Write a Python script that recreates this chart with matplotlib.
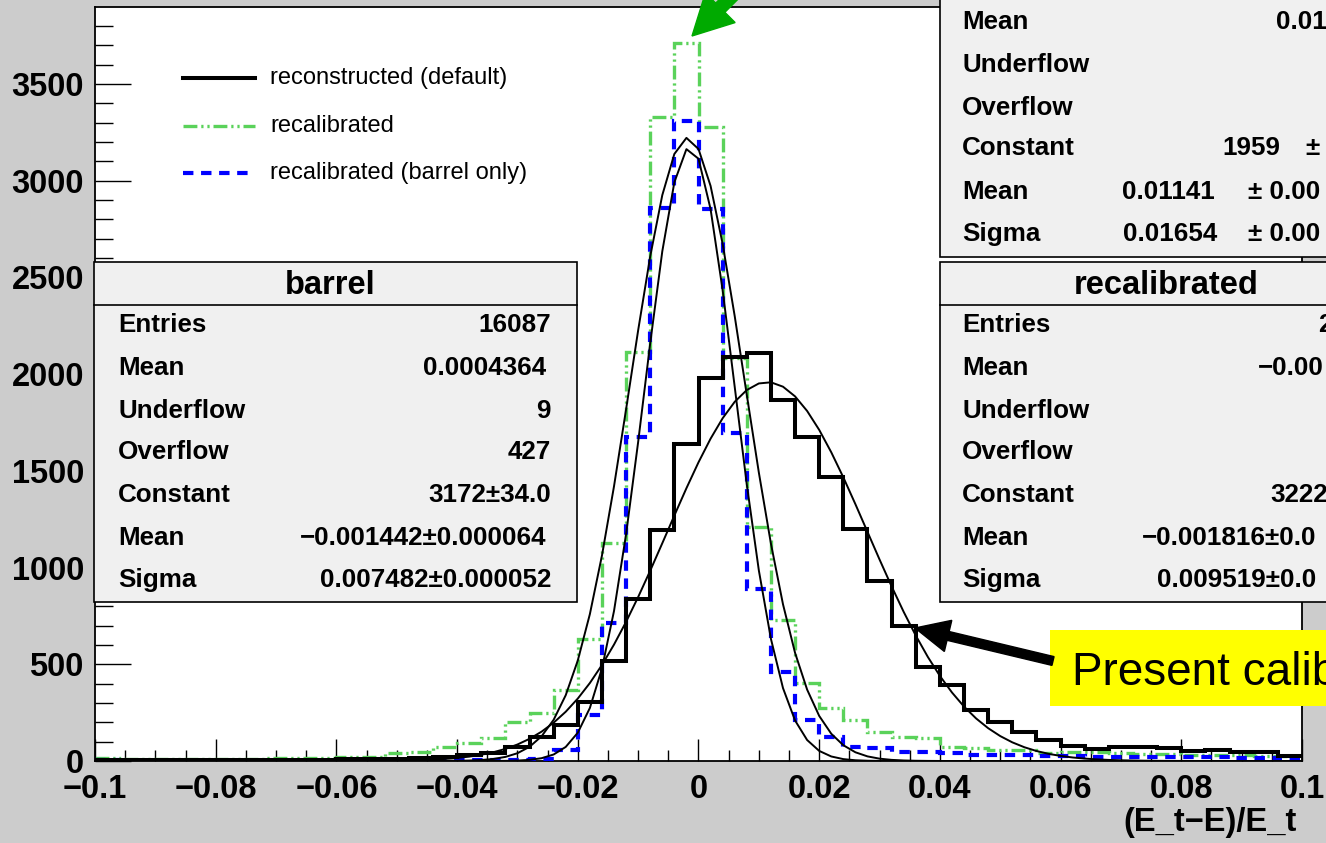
import numpy as np
import matplotlib
matplotlib.use('Agg')
import matplotlib.pyplot as plt
from matplotlib.patches import Rectangle, FancyArrow
from matplotlib.lines import Line2D
from matplotlib.transforms import IdentityTransform
from matplotlib.ticker import MultipleLocator, FuncFormatter

plt.rcParams['font.family'] = ['Liberation Sans', 'DejaVu Sans']
plt.rcParams['font.weight'] = 'bold'
plt.rcParams['lines.scale_dashes'] = False

W, H = 1326, 843

# histogram binning: 50 bins of 0.004 between -0.1 and 0.1
x_min, x_max, n_bins = -0.1, 0.1, 50

# bin contents
default_counts = [4, 4, 4, 4, 4, 6, 6, 6, 6, 7,
                  8, 10, 12, 16, 19, 31, 40, 74, 126, 186,
                  307, 515, 836, 1194, 1639, 1979, 2091, 2108, 1867, 1677,
                  1467, 1198, 932, 698, 484, 393, 264, 203, 152, 109,
                  80, 62, 70, 70, 66, 50, 55, 48, 45, 28]
recal_counts = [18, 12, 10, 10, 10, 12, 12, 14, 16, 16,
                19, 22, 40, 48, 74, 92, 117, 203, 247, 367,
                630, 1126, 2116, 3328, 3711, 3277, 2082, 1212, 729, 402,
                272, 212, 152, 126, 117, 74, 66, 57, 57, 40,
                45, 45, 40, 38, 35, 32, 30, 30, 28, 25]
barrel_counts = [3, 2, 2, 2, 2, 2, 2, 2, 2, 2,
                 2, 3, 3, 3, 4, 4, 5, 6, 10, 55,
                 240, 712, 1674, 2861, 3311, 2854, 1694, 888, 462, 212,
                 126, 74, 66, 48, 48, 40, 31, 31, 31, 28,
                 25, 22, 22, 22, 22, 22, 20, 18, 15, 10]

# gaussian fit parameters from the stat boxes
fit_const = [3172, 3222, 1959]
fit_mean = [-0.001442, -0.001816, 0.01141]
fit_sigma = [0.007482, 0.009519, 0.01654]

legend_labels = ['reconstructed (default)', 'recalibrated', 'recalibrated (barrel only)']

barrel_title = 'barrel'
barrel_rows = [('Entries', '16087'), ('Mean', '0.0004364'), ('Underflow', '9'),
               ('Overflow', '427'), ('Constant', '3172\u00b134.0'),
               ('Mean', '\u22120.001442\u00b10.000064'), ('Sigma', '0.007482\u00b10.000052')]
recal_title = 'recalibrated'
recal_labels = ['Entries', 'Mean', 'Underflow', 'Overflow', 'Constant', 'Mean', 'Sigma']
recal_values = ['2', '\u22120.00', '', '', '3222', '\u22120.001816\u00b10.0', '0.009519\u00b10.0']
default_labels = ['Mean', 'Underflow', 'Overflow', 'Constant', 'Mean', 'Sigma']
default_values = ['0.01', '', '', '1959', '0.01141', '0.01654']
default_errors = ['', '', '', '\u00b1', '\u00b1 0.00', '\u00b1 0.00']

GREEN = '#5ad25a'
BLUE = '#0000ff'
green_ls = (0, (10, 2.8, 1.6, 2.8, 1.6, 2.8))
blue_ls = (0, (7.5, 5.5))


def fx(p):
    return p / W


def fy(p):
    return 1 - p / H


def fig_text(x, y, s, **kw):
    kw.setdefault('va', 'center')
    kw.setdefault('zorder', 12)
    fig.text(fx(x), fy(y), s, **kw)


def fig_rect(x0, y0, x1, y1, **kw):
    r = Rectangle((fx(x0), fy(y1)), (x1 - x0) / W, (y1 - y0) / H,
                  transform=fig.transFigure, **kw)
    fig.add_artist(r)


def fig_line(xs, ys, **kw):
    fig.add_artist(Line2D([fx(v) for v in xs], [fy(v) for v in ys],
                          transform=fig.transFigure, **kw))


fig = plt.figure(figsize=(W / 100, H / 100), dpi=100)
fig.patch.set_facecolor('#cccccc')

ax = fig.add_axes([fx(95), fy(761), (1302 - 95) / W, (761 - 7) / H])
ax.set_facecolor('white')

edges = np.linspace(x_min, x_max, n_bins + 1)
ax.stairs(recal_counts, edges, baseline=None, color=GREEN, lw=2.4,
          linestyle=green_ls, zorder=2)
ax.stairs(barrel_counts, edges, baseline=None, color=BLUE, lw=3.0,
          linestyle=blue_ls, zorder=3)
ax.stairs(default_counts, edges, baseline=None, color='black', lw=2.9, zorder=4)

# fitted gaussians, drawn with 100 segments like ROOT does
xf = np.linspace(x_min, x_max, 101)
for c, m, s in zip(fit_const, fit_mean, fit_sigma):
    ax.plot(xf, c * np.exp(-0.5 * ((xf - m) / s) ** 2), color='black', lw=1.4, zorder=5)

ax.set_xlim(x_min, x_max)
ax.set_ylim(0, 3898)
ax.xaxis.set_major_locator(MultipleLocator(0.02))
ax.xaxis.set_minor_locator(MultipleLocator(0.005))
ax.yaxis.set_major_locator(MultipleLocator(500))
ax.yaxis.set_minor_locator(MultipleLocator(100))


def fmt(v, pos):
    v = round(v, 6)
    if abs(v) < 1e-9:
        return '0'
    return f'{v:g}'.replace('-', '\u2212')


ax.xaxis.set_major_formatter(FuncFormatter(fmt))
ax.tick_params(axis='both', which='both', direction='in', top=False, right=False,
               width=1.0, labelsize=23.5)
ax.tick_params(axis='y', which='major', length=26, pad=8)
ax.tick_params(axis='y', which='minor', length=13)
ax.tick_params(axis='x', which='major', length=16, pad=9.5)
ax.tick_params(axis='x', which='minor', length=8)
for sp in ax.spines.values():
    sp.set_linewidth(1.3)

fig_text(1297, 823, '(E_t\u2212E)/E_t', ha='right', fontsize=23.5)

# legend
leg_y = [78, 126, 173]
fig_line([183, 255], [leg_y[0]] * 2, color='black', lw=2.9, zorder=12)
fig_line([183, 255], [leg_y[1]] * 2, color=GREEN, lw=2.4, linestyle=green_ls, zorder=12)
fig_line([183, 255], [leg_y[2]] * 2, color=BLUE, lw=3.0, linestyle=blue_ls, zorder=12)
for y, lab in zip(leg_y, legend_labels):
    fig_text(270, y, lab, ha='left', fontsize=17, fontweight='normal')

row_y = [325, 368, 411, 452, 495, 538, 580]
box_kw = dict(facecolor='#f0f0f0', edgecolor='black', lw=1.2, zorder=10)

# barrel stat box
fig_rect(94, 262, 577, 602, **box_kw)
fig_line([94, 577], [305, 305], color='black', lw=1.2, zorder=11)
fig_text(330, 285, barrel_title, ha='center', fontsize=23.5)
for y, (lab, val) in zip(row_y, barrel_rows):
    fig_text(118, y, lab, ha='left', fontsize=18.7)
    xr = 546 if lab == 'Mean' else 551
    fig_text(xr, y, val, ha='right', fontsize=18.7)

# recalibrated stat box (cut by the canvas edge)
fig_rect(940, 262, 1400, 602, **box_kw)
fig_line([940, 1400], [305, 305], color='black', lw=1.2, zorder=11)
fig_text(1166, 285, recal_title, ha='center', fontsize=23.5)
recal_x = [1318, 1258, 0, 0, 1270, 1142, 1157]
for y, lab, val, xv in zip(row_y, recal_labels, recal_values, recal_x):
    fig_text(962, y, lab, ha='left', fontsize=18.7)
    if val:
        fig_text(xv, y, val, ha='left', fontsize=18.7)

# reconstructed (default) stat box, title above the canvas
fig_rect(940, -20, 1400, 257, **box_kw)
top_y = [22, 65, 108, 148, 192, 234]
val_x = [1276, 0, 0, 1222, 1122, 1123]
err_x = [0, 0, 0, 1305, 1248, 1248]
for y, lab, val, err, xv, xe in zip(top_y, default_labels, default_values,
                                    default_errors, val_x, err_x):
    fig_text(962, y, lab, ha='left', fontsize=18.7)
    if val:
        fig_text(xv, y, val, ha='left', fontsize=18.7)
    if err:
        fig_text(xe, y, err, ha='left', fontsize=18.7)

# yellow note with arrow
fig_rect(1050, 630, 1420, 706, facecolor='#ffff00', edgecolor='none', zorder=10)
fig_text(1072, 685, 'Present calibration', ha='left', va='baseline',
         fontsize=33, fontweight='normal')

arr = FancyArrow(1053, H - 661, 915 - 1053, 661 - 628, width=9, head_width=32,
                 head_length=34, length_includes_head=True, color='black',
                 transform=IdentityTransform(), zorder=13)
fig.add_artist(arr)

garr = FancyArrow(760, H + 32, 692 - 760, -(36 + 32), width=13, head_width=42,
                  head_length=40, length_includes_head=True, color='#00aa00',
                  transform=IdentityTransform(), zorder=13)
fig.add_artist(garr)

fig.savefig('out.png', dpi=100, facecolor=fig.get_facecolor())
